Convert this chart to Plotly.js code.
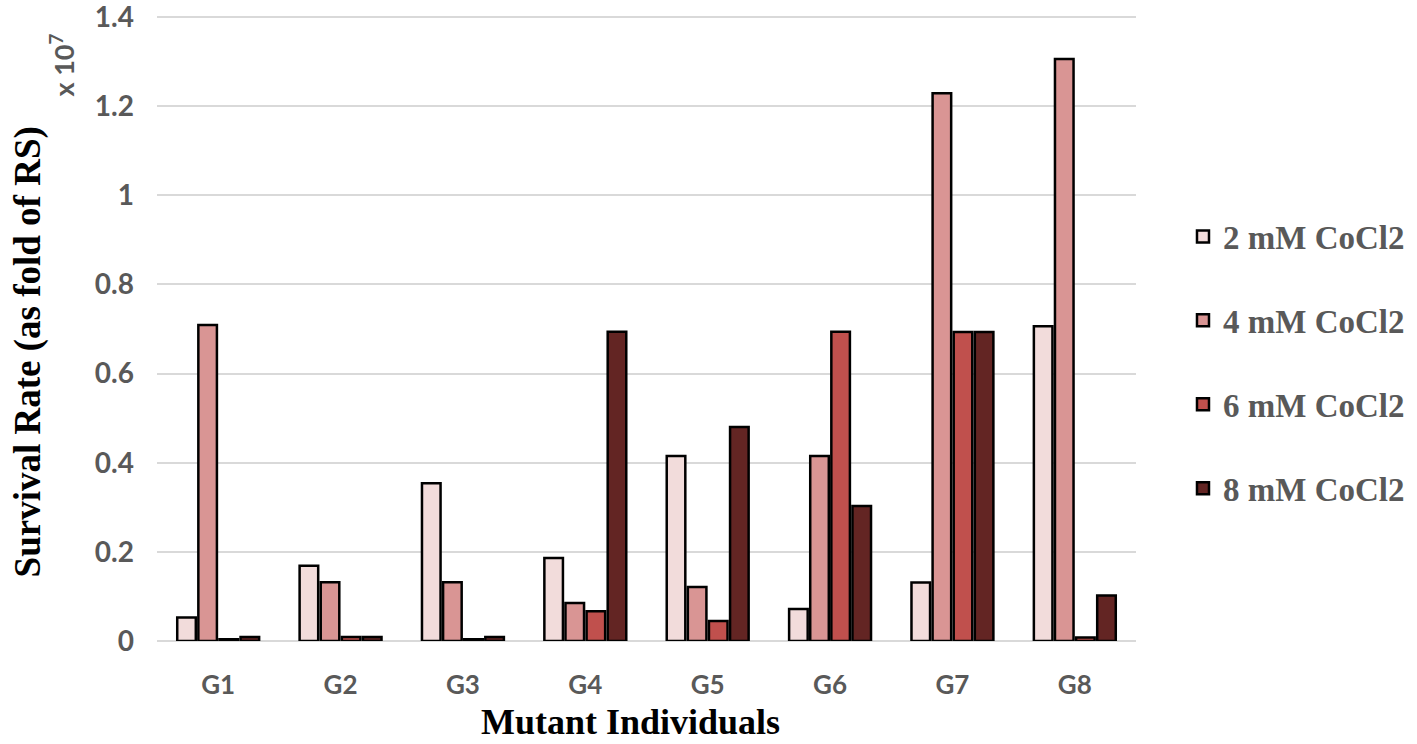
<!DOCTYPE html>
<html>
<head>
<meta charset="utf-8">
<script src="https://cdn.plot.ly/plotly-3.0.1.min.js"></script>
<style>
  html, body { margin: 0; padding: 0; background: #fff; }
  #plot { width: 1417px; height: 744px; }
</style>
</head>
<body>
<div id="plot"></div>
<script>
// values are in units of 10^7 (fold of RS)
const groups = ['G1', 'G2', 'G3', 'G4', 'G5', 'G6', 'G7', 'G8'];
const seriesNames = ['2 mM CoCl2', '4 mM CoCl2', '6 mM CoCl2', '8 mM CoCl2'];
const mM2 = [0.053, 0.169, 0.354, 0.186, 0.415, 0.072, 0.131, 0.706];
const mM4 = [0.709, 0.132, 0.132, 0.085, 0.121, 0.415, 1.229, 1.306];
const mM6 = [0.004, 0.009, 0.004, 0.067, 0.045, 0.694, 0.693, 0.008];
const mM8 = [0.009, 0.009, 0.009, 0.694, 0.480, 0.303, 0.693, 0.102];
const yTicks = [0, 0.2, 0.4, 0.6, 0.8, 1, 1.2, 1.4];

const colors = ['#f2dcdb', '#d99594', '#c0504d', '#632523'];
const allValues = [mM2, mM4, mM6, mM8];

const data = allValues.map(function(vals, i) {
  return {
    type: 'bar',
    x: groups,
    y: vals,
    name: seriesNames[i],
    legendgroup: 'g' + i,
    marker: { color: colors[i], line: { color: '#000', width: 2.5 } },
    hoverinfo: 'x+y+name'
  };
});

const grey = '#595959';
const serif = 'Liberation Serif, serif';
const sans = 'Lato, Open Sans, sans-serif';

// plot area runs from y=5 to y=641 px; the 1.4 gridline should sit at y=17
const topMargin = 5;
const plotH = 744 - topMargin - 103;
const yTop = 1.4 * plotH / 624;

const layout = {
  width: 1417,
  height: 744,
  margin: { l: 157, r: 281, t: topMargin, b: 103 },
  paper_bgcolor: '#fff',
  plot_bgcolor: '#fff',
  barmode: 'group',
  bargap: 0.31,
  bargroupgap: 0.12,
  showlegend: true,
  legend: {
    x: 1.048, xanchor: 'left',
    y: 0.68, yanchor: 'top',
    tracegroupgap: 38,
    itemwidth: 30,
    font: { family: serif, size: 33, color: grey, weight: 'bold' }
  },
  xaxis: {
    tickfont: { family: sans, size: 26, color: grey, weight: 'bold' },
    ticklabelstandoff: 26,
    showline: false,
    showgrid: false
  },
  yaxis: {
    range: [0, yTop],
    tickvals: yTicks,
    ticktext: yTicks.map(String),
    tickfont: { family: sans, size: 28, color: grey, weight: 'bold' },
    ticklabelstandoff: 22,
    ticklabeloverflow: 'allow',
    showgrid: true,
    gridcolor: '#d9d9d9',
    gridwidth: 2,
    zeroline: true,
    zerolinecolor: '#d9d9d9',
    zerolinewidth: 2,
    showline: false
  },
  annotations: [
    {
      text: 'x 10<sup>7</sup>',
      xref: 'paper', yref: 'paper',
      x: -0.097, y: 0.905,
      xanchor: 'center', yanchor: 'middle',
      textangle: -90,
      showarrow: false,
      font: { family: sans, size: 27, color: grey, weight: 'bold' }
    },
    {
      text: 'Survival Rate (as fold of RS)',
      xref: 'paper', yref: 'paper',
      x: -0.132, y: 0.455,
      xanchor: 'center', yanchor: 'middle',
      textangle: -90,
      showarrow: false,
      font: { family: serif, size: 37, color: '#000', weight: 'bold' }
    },
    {
      text: 'Mutant Individuals',
      xref: 'paper', yref: 'paper',
      x: 0.484, y: -0.127,
      xanchor: 'center', yanchor: 'middle',
      showarrow: false,
      font: { family: serif, size: 36, color: '#000', weight: 'bold' }
    }
  ]
};

Plotly.newPlot('plot', data, layout, { displayModeBar: false, staticPlot: true });
</script>
</body>
</html>
